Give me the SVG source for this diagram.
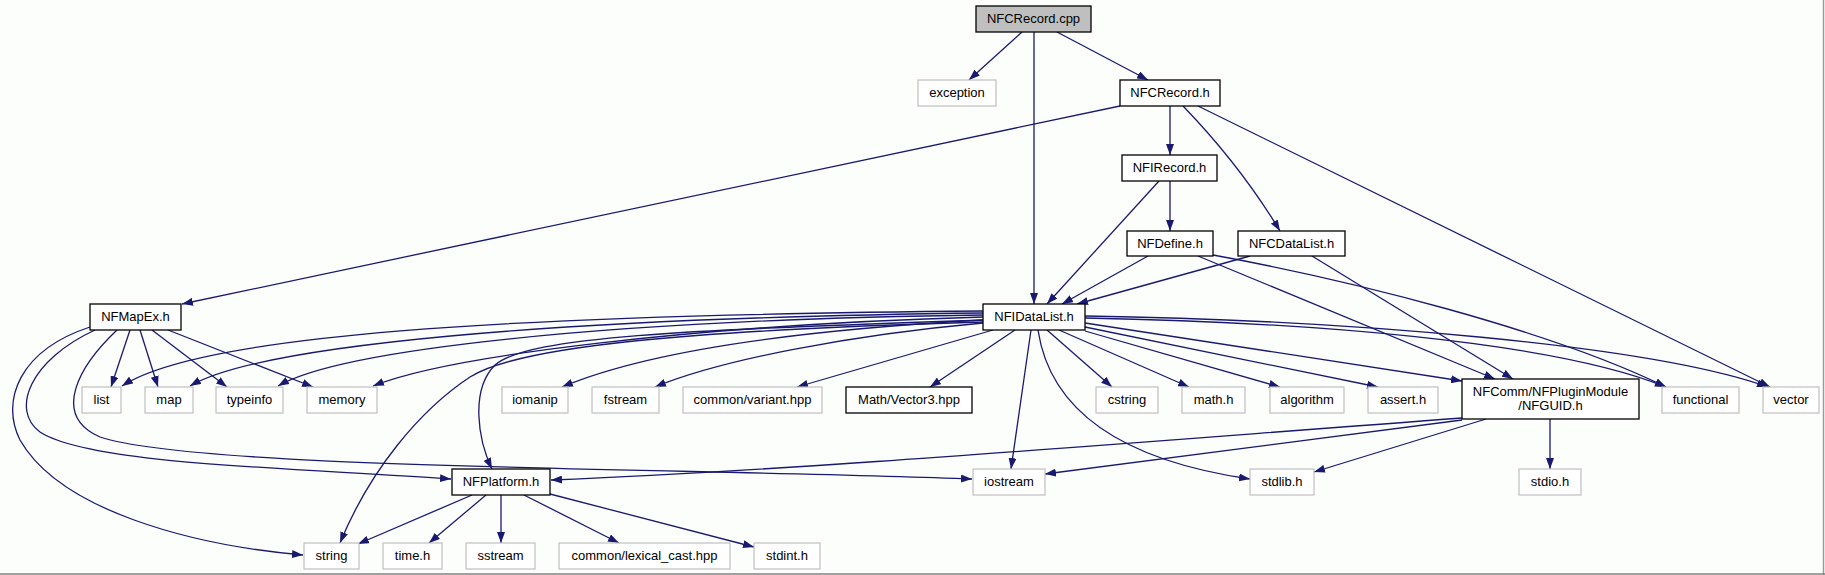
<svg xmlns="http://www.w3.org/2000/svg" width="1825" height="575" viewBox="0 0 1825 575">
<defs>
<marker id="ah" markerWidth="11" markerHeight="8" refX="11" refY="4" orient="auto" markerUnits="userSpaceOnUse">
<path d="M0,0 L11,4 L0,8 z" fill="#191970"/>
</marker>
<style>
.n{fill:#FFFFFF;stroke:#000000;stroke-width:1.3}
.g{fill:#FFFFFF;stroke:#BFBFBF;stroke-width:1.2}
.c{fill:#BFBFBF;stroke:#000000;stroke-width:1.3}
.t{font-family:"Liberation Sans",Arial,sans-serif;font-size:13px;fill:#000000;text-anchor:middle}
#edges path{fill:none;stroke:#191970;stroke-width:1.3;marker-end:url(#ah)}
</style>
</defs>
<rect x="0" y="0" width="1825" height="575" fill="#FCFEFC"/>
<line x1="1823.5" y1="0" x2="1823.5" y2="575" stroke="#9A9A9A" stroke-width="1.5"/>
<line x1="0" y1="574" x2="1825" y2="574" stroke="#808080" stroke-width="1.5"/>

<g id="edges">
<path d="M1022,32 L969,80"/>
<path d="M1057,32 L1148,80"/>
<path d="M1034,32 L1034,304"/>
<path d="M1120,106 L182,304"/>
<path d="M1170,106 L1170,155"/>
<path d="M1183,106 Q1240,165 1280,231"/>
<path d="M1198,106 L1770,387"/>
<path d="M1159,181 L1047,304"/>
<path d="M1170,181 L1170,231"/>
<path d="M1148,256 L1062,304"/>
<path d="M1198,256 L1495,379"/>
<path d="M1213,255 C1350,280 1550,330 1666,387"/>
<path d="M1250,256 L1077,304"/>
<path d="M1312,256 L1513,379"/>
<path d="M130,330 L111,387"/>
<path d="M140,330 L158,387"/>
<path d="M152,330 L227,387"/>
<path d="M168,330 L313,387"/>
<path d="M90,327 C20,350 0,400 20,440 C60,510 190,545 303,555"/>
<path d="M95,330 C30,360 10,410 40,432 C90,465 300,468 451,479"/>
<path d="M117,330 C80,365 50,415 100,437 C200,470 700,468 972,479"/>
<path d="M983,311 C500,315 200,335 122,386"/>
<path d="M983,313 C550,318 260,345 190,386"/>
<path d="M983,315 C600,320 340,350 278,386"/>
<path d="M983,317 C700,325 450,355 373,386"/>
<path d="M983,322 C700,330 520,345 470,377 C420,410 370,470 340,543"/>
<path d="M983,320 C700,330 530,335 495,365 C470,390 478,440 492,469"/>
<path d="M983,320 C800,330 650,350 562,387"/>
<path d="M983,323 C850,335 720,360 655,387"/>
<path d="M993,330 L797,387"/>
<path d="M1015,330 L930,387"/>
<path d="M1031,330 L1011,469"/>
<path d="M1038,330 C1050,410 1120,460 1250,479"/>
<path d="M1047,330 L1112,387"/>
<path d="M1059,330 L1189,387"/>
<path d="M1085,331 L1280,387"/>
<path d="M1085,327 L1378,387"/>
<path d="M1085,323 L1462,381"/>
<path d="M1085,318 C1300,322 1550,340 1666,387"/>
<path d="M1085,316 C1350,320 1650,345 1768,387"/>
<path d="M1462,418 C1100,445 800,470 551,480"/>
<path d="M1462,420 C1300,440 1150,460 1045,474"/>
<path d="M1486,419 L1314,472"/>
<path d="M1550,419 L1550,469"/>
<path d="M472,495 L358,544"/>
<path d="M486,495 L429,543"/>
<path d="M501,495 L501,543"/>
<path d="M524,495 L619,543"/>
<path d="M550,494 L754,547"/>
</g>

<g id="n_cpp"><rect class="c" x="976" y="6" width="115" height="26"/><text class="t" x="1033.5" y="23">NFCRecord.cpp</text></g>
<g id="n_exception"><rect class="g" x="918" y="80" width="78" height="26"/><text class="t" x="957" y="97">exception</text></g>
<g id="n_NFCRecord"><rect class="n" x="1120" y="80" width="100" height="26"/><text class="t" x="1170" y="97">NFCRecord.h</text></g>
<g id="n_NFIRecord"><rect class="n" x="1122" y="155" width="95" height="26"/><text class="t" x="1169.5" y="172">NFIRecord.h</text></g>
<g id="n_NFDefine"><rect class="n" x="1127" y="231" width="86" height="25"/><text class="t" x="1170" y="248">NFDefine.h</text></g>
<g id="n_NFCDataList"><rect class="n" x="1238" y="231" width="107" height="25"/><text class="t" x="1291.5" y="248">NFCDataList.h</text></g>
<g id="n_NFIDataList"><rect class="n" x="983" y="304" width="102" height="26"/><text class="t" x="1034" y="321">NFIDataList.h</text></g>
<g id="n_NFMapEx"><rect class="n" x="90" y="304" width="91" height="26"/><text class="t" x="135.5" y="321">NFMapEx.h</text></g>
<g id="n_list"><rect class="g" x="82" y="387" width="39" height="26"/><text class="t" x="101.5" y="404">list</text></g>
<g id="n_map"><rect class="g" x="145" y="387" width="48" height="26"/><text class="t" x="169" y="404">map</text></g>
<g id="n_typeinfo"><rect class="g" x="216" y="387" width="67" height="26"/><text class="t" x="249.5" y="404">typeinfo</text></g>
<g id="n_memory"><rect class="g" x="307" y="387" width="70" height="26"/><text class="t" x="342" y="404">memory</text></g>
<g id="n_iomanip"><rect class="g" x="502" y="387" width="66" height="26"/><text class="t" x="535" y="404">iomanip</text></g>
<g id="n_fstream"><rect class="g" x="592" y="387" width="67" height="26"/><text class="t" x="625.5" y="404">fstream</text></g>
<g id="n_variant"><rect class="g" x="683" y="387" width="139" height="26"/><text class="t" x="752.5" y="404">common/variant.hpp</text></g>
<g id="n_vector3"><rect class="n" x="846" y="387" width="126" height="26"/><text class="t" x="909" y="404">Math/Vector3.hpp</text></g>
<g id="n_cstring"><rect class="g" x="1096" y="387" width="62" height="26"/><text class="t" x="1127" y="404">cstring</text></g>
<g id="n_math"><rect class="g" x="1182" y="387" width="63" height="26"/><text class="t" x="1213.5" y="404">math.h</text></g>
<g id="n_algorithm"><rect class="g" x="1270" y="387" width="74" height="26"/><text class="t" x="1307" y="404">algorithm</text></g>
<g id="n_assert"><rect class="g" x="1368" y="387" width="70" height="26"/><text class="t" x="1403" y="404">assert.h</text></g>
<g id="n_NFGUID"><rect class="n" x="1462" y="379" width="177" height="40"/><text class="t" x="1550.5" y="396">NFComm/NFPluginModule</text><text class="t" x="1550.5" y="410">/NFGUID.h</text></g>
<g id="n_functional"><rect class="g" x="1662" y="387" width="77" height="26"/><text class="t" x="1700.5" y="404">functional</text></g>
<g id="n_vector"><rect class="g" x="1763" y="387" width="56" height="26"/><text class="t" x="1791" y="404">vector</text></g>
<g id="n_NFPlatform"><rect class="n" x="452" y="469" width="98" height="26"/><text class="t" x="501" y="486">NFPlatform.h</text></g>
<g id="n_iostream"><rect class="g" x="973" y="469" width="72" height="26"/><text class="t" x="1009" y="486">iostream</text></g>
<g id="n_stdlib"><rect class="g" x="1250" y="469" width="64" height="26"/><text class="t" x="1282" y="486">stdlib.h</text></g>
<g id="n_stdio"><rect class="g" x="1519" y="469" width="62" height="26"/><text class="t" x="1550" y="486">stdio.h</text></g>
<g id="n_string"><rect class="g" x="304" y="543" width="55" height="26"/><text class="t" x="331.5" y="560">string</text></g>
<g id="n_time"><rect class="g" x="383" y="543" width="59" height="26"/><text class="t" x="412.5" y="560">time.h</text></g>
<g id="n_sstream"><rect class="g" x="466" y="543" width="69" height="26"/><text class="t" x="500.5" y="560">sstream</text></g>
<g id="n_lexical"><rect class="g" x="559" y="543" width="171" height="26"/><text class="t" x="644.5" y="560">common/lexical_cast.hpp</text></g>
<g id="n_stdint"><rect class="g" x="754" y="543" width="66" height="26"/><text class="t" x="787" y="560">stdint.h</text></g>
</svg>
